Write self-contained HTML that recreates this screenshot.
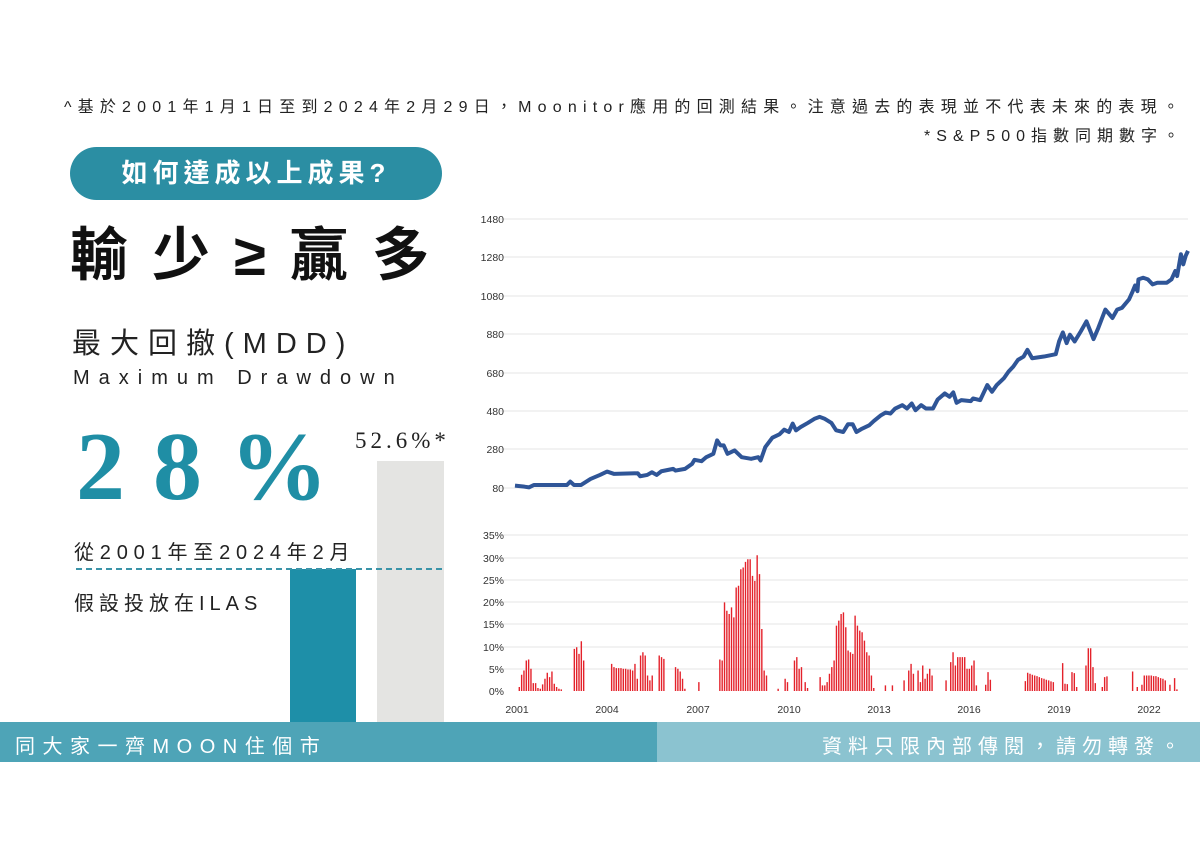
<!DOCTYPE html>
<html><head><meta charset="utf-8"><style>
body{margin:0;width:1200px;height:849px;background:#fff;position:relative;overflow:hidden;font-family:"Liberation Sans","Noto Sans CJK TC",sans-serif;color:#222}
.a{position:absolute;white-space:nowrap}
</style></head><body>
<div class="a" style="right:15px;top:93px;font-size:16px;letter-spacing:6.2px;">^基於2001年1月1日至到2024年2月29日，Moonitor應用的回測結果。注意過去的表現並不代表未來的表現。</div>
<div class="a" style="right:15px;top:122px;font-size:16px;letter-spacing:6px;">*S&amp;P500指數同期數字。</div>
<div class="a" style="left:70px;top:147px;width:372px;height:53px;border-radius:27px;background:#2b8ea3;color:#fff;font-size:26px;font-weight:bold;letter-spacing:5px;text-align:center;line-height:53px;">如何達成以上成果?</div>
<div class="a" style="left:70px;top:218px;font-size:58px;letter-spacing:24px;font-weight:bold;line-height:76px;color:#111">輸少≥贏多</div>
<div class="a" style="left:72px;top:325px;font-size:29px;letter-spacing:9px;line-height:38px">最大回撤(MDD)</div>
<div class="a" style="left:73px;top:367px;font-size:20px;letter-spacing:9px;">Maximum Drawdown</div>
<div class="a" style="left:76px;top:412px;font-size:98px;letter-spacing:28px;font-family:'Liberation Serif',serif;font-weight:bold;color:#1f8ea5;line-height:110px">28%</div>
<div class="a" style="left:355px;top:428px;font-size:23px;letter-spacing:4px;font-family:'Liberation Serif',serif;">52.6%*</div>
<div class="a" style="left:377px;top:461px;width:67px;height:261px;background:#e4e4e2"></div>
<div class="a" style="left:290px;top:569px;width:66px;height:153px;background:#1e8fa8"></div>
<div class="a" style="left:76px;top:568px;width:366px;border-top:2px dashed #3a93a8"></div>
<div class="a" style="left:74px;top:536px;font-size:20px;letter-spacing:5.8px;">從2001年至2024年2月</div>
<div class="a" style="left:74px;top:587px;font-size:20px;letter-spacing:5px;">假設投放在ILAS</div>
<div class="a" style="left:0;top:722px;width:657px;height:40px;background:#4ea4b7"></div>
<div class="a" style="left:657px;top:722px;width:543px;height:40px;background:#8bc3d0"></div>
<div class="a" style="left:15px;top:730px;font-size:20px;letter-spacing:7.5px;color:#fff">同大家一齊MOON住個市</div>
<div class="a" style="right:14px;top:730px;font-size:20px;letter-spacing:6px;color:#fff">資料只限內部傳閱，請勿轉發。</div>
<svg class="a" style="left:0;top:0" width="1200" height="849">
<g stroke="#e6e6e6" stroke-width="1">
<line x1="500" y1="219" x2="1188" y2="219"/><line x1="500" y1="257" x2="1188" y2="257"/><line x1="500" y1="296" x2="1188" y2="296"/><line x1="500" y1="334" x2="1188" y2="334"/><line x1="500" y1="373" x2="1188" y2="373"/><line x1="500" y1="411" x2="1188" y2="411"/><line x1="500" y1="449" x2="1188" y2="449"/><line x1="500" y1="488" x2="1188" y2="488"/>
<line x1="500" y1="535" x2="1188" y2="535"/><line x1="500" y1="558" x2="1188" y2="558"/><line x1="500" y1="580" x2="1188" y2="580"/><line x1="500" y1="602" x2="1188" y2="602"/><line x1="500" y1="624" x2="1188" y2="624"/><line x1="500" y1="647" x2="1188" y2="647"/><line x1="500" y1="669" x2="1188" y2="669"/>
</g>
<g font-family="Liberation Sans,sans-serif" font-size="10.5" fill="#333" text-anchor="end">
<text x="504" y="223">1480</text><text x="504" y="261">1280</text><text x="504" y="300">1080</text><text x="504" y="338">880</text><text x="504" y="377">680</text><text x="504" y="415">480</text><text x="504" y="453">280</text><text x="504" y="492">80</text>
<text x="504" y="539">35%</text><text x="504" y="562">30%</text><text x="504" y="584">25%</text><text x="504" y="606">20%</text><text x="504" y="628">15%</text><text x="504" y="651">10%</text><text x="504" y="673">5%</text><text x="504" y="695">0%</text>
</g>
<g font-family="Liberation Sans,sans-serif" font-size="10.5" fill="#333" text-anchor="middle">
<text x="517" y="713">2001</text><text x="607" y="713">2004</text><text x="698" y="713">2007</text><text x="789" y="713">2010</text><text x="879" y="713">2013</text><text x="969" y="713">2016</text><text x="1059" y="713">2019</text><text x="1149" y="713">2022</text>
</g>
<g transform="matrix(0.4723 0 0 0.3354 458.3 198.9)">
<polyline fill="none" stroke="#2f5597" stroke-width="4" vector-effect="non-scaling-stroke" stroke-linejoin="round" points="120,855 140,858 150,860 160,853 230,853 237,843 245,853 260,853 280,835 300,823 315,813 330,820 380,818 385,827 400,823 410,815 420,823 430,812 455,805 460,810 480,805 495,790 500,778 515,782 525,770 540,760 548,720 555,735 562,735 570,760 585,750 600,770 620,775 635,770 640,780 650,740 665,712 680,702 690,688 700,695 708,670 715,690 725,680 740,668 755,655 765,650 775,655 790,668 800,690 815,695 825,672 835,672 843,695 855,685 870,675 880,662 895,645 905,637 915,640 925,625 940,615 950,625 960,610 968,630 980,615 990,625 1005,625 1015,598 1030,580 1040,590 1048,577 1055,608 1065,600 1085,603 1090,595 1105,600 1120,555 1130,575 1140,555 1155,535 1165,515 1175,500 1185,480 1197,470 1205,450 1215,475 1240,470 1265,463 1272,425 1280,398 1288,430 1295,405 1305,425 1318,395 1330,365 1345,418 1355,385 1370,330 1385,355 1395,330 1405,325 1420,300 1428,275 1433,258 1438,275 1440,240 1450,235 1460,240 1470,255 1480,250 1500,250 1510,240 1518,215 1522,230 1530,165 1535,195 1540,170 1545,155"/>
</g>
<g transform="matrix(0.4664 0 0 0.332 461 519.4)">
<path stroke="#e4222b" stroke-width="1.4" vector-effect="non-scaling-stroke" fill="none" d="M125,517V505M130,517V468M135,517V455M140,517V425M145,517V422M150,517V450M155,517V493M160,517V493M165,517V508M170,517V510M175,517V497M180,517V480M185,517V462M190,517V475M195,517V458M200,517V495M205,517V505M210,517V510M215,517V512M243,517V390M248,517V385M253,517V405M258,517V367M263,517V425M323,517V435M328,517V445M333,517V448M338,517V448M343,517V448M348,517V450M353,517V450M358,517V452M363,517V452M368,517V455M373,517V435M378,517V480M385,517V410M390,517V400M395,517V410M400,517V470M405,517V485M410,517V470M425,517V410M430,517V415M435,517V420M460,517V445M465,517V450M470,517V458M475,517V480M480,517V510M510,517V490M555,517V422M560,517V425M565,517V250M570,517V275M575,517V285M580,517V265M585,517V295M590,517V205M595,517V200M600,517V150M605,517V145M610,517V128M615,517V120M620,517V120M625,517V170M630,517V185M635,517V108M640,517V165M645,517V330M650,517V455M655,517V470M680,517V510M695,517V480M700,517V490M715,517V425M720,517V415M725,517V450M730,517V445M738,517V490M743,517V508M770,517V475M775,517V500M780,517V500M785,517V490M790,517V465M795,517V445M800,517V425M805,517V320M810,517V305M815,517V285M820,517V280M825,517V325M830,517V395M835,517V400M840,517V405M845,517V290M850,517V320M855,517V335M860,517V340M865,517V365M870,517V400M875,517V410M880,517V470M885,517V508M910,517V500M925,517V500M950,517V485M960,517V455M965,517V435M970,517V465M980,517V455M985,517V490M990,517V440M995,517V480M1000,517V465M1005,517V450M1010,517V470M1040,517V485M1050,517V430M1055,517V400M1060,517V440M1065,517V415M1070,517V415M1075,517V415M1080,517V415M1085,517V450M1090,517V450M1095,517V440M1100,517V425M1105,517V500M1125,517V498M1130,517V460M1135,517V483M1210,517V487M1215,517V462M1220,517V465M1225,517V468M1230,517V470M1235,517V472M1240,517V475M1245,517V478M1250,517V480M1255,517V483M1260,517V485M1265,517V488M1270,517V490M1290,517V433M1295,517V495M1300,517V496M1310,517V460M1315,517V463M1320,517V505M1340,517V440M1345,517V388M1350,517V388M1355,517V445M1360,517V493M1375,517V505M1380,517V475M1385,517V473M1440,517V458M1450,517V505M1460,517V498M1465,517V470M1470,517V470M1475,517V470M1480,517V470M1485,517V472M1490,517V472M1495,517V475M1500,517V478M1505,517V480M1510,517V485M1520,517V498M1530,517V478M1535,517V512"/>
</g>
</svg>
</body></html>
